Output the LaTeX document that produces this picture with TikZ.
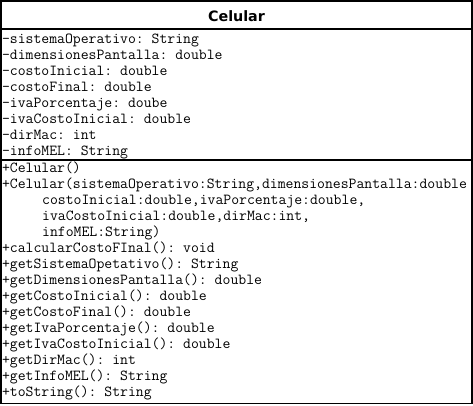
\documentclass[tikz,border=0pt]{standalone}
\usepackage{fontspec}
\newfontfamily\titlefont{DejaVu Sans}
\frenchspacing
\tikzset{
  umlline/.style={anchor=base west, inner sep=0pt, outer sep=0pt, font=\ttfamily\frenchspacing\fontsize{15.3}{16}\selectfont},
  umltitle/.style={anchor=base, inner sep=0pt, font=\titlefont\bfseries\fontsize{14.3}{17}\selectfont},
  umlbox/.style={draw=black, line width=1.6pt}
}
\begin{document}
\begin{tikzpicture}[x=1pt,y=-1pt]
\useasboundingbox (0,0) rectangle (473,405);
\fill[white] (0,0) rectangle (473,405);
\node[umltitle] (title) at (236.5,21) {Celular};
\begin{scope}
\clip (2,2) rectangle (471,403);
\foreach \t [count=\i from 0] in {
  -sistemaOperativo: String,
  -dimensionesPantalla: double,
  -costoInicial: double,
  -costoFinal: double,
  -ivaPorcentaje: doube,
  -ivaCostoInicial: double,
  -dirMac: int,
  -infoMEL: String}
  \node[umlline] (a\i) at (2,43+16*\i) {\t};
\node[umlline] (m0) at (2,172) {+Celular()};
\node[umlline] (m1) at (2,188.07) {+Celular(sistemaOperativo:String{,}dimensionesPantalla:double};
\node[umlline] (m2) at (42.2,204.14) {costoInicial:double{,}ivaPorcentaje:double{,}};
\node[umlline] (m3) at (42.2,220.21) {ivaCostoInicial:double{,}dirMac:int{,}};
\node[umlline] (m4) at (42.2,236.28) {infoMEL:String)};
\foreach \t [count=\i from 5] in {
  +calcularCostoFInal(): void,
  +getSistemaOpetativo(): String,
  +getDimensionesPantalla(): double,
  +getCostoInicial(): double,
  +getCostoFinal(): double,
  +getIvaPorcentaje(): double,
  +getIvaCostoInicial(): double,
  +getDirMac(): int,
  +getInfoMEL(): String,
  +toString(): String}
  \node[umlline] (m\i) at (2,172+16.07*\i) {\t};
\end{scope}
\draw[umlbox] (1,1) rectangle (472,403.5);
\draw[umlbox] (1,29) -- (472,29);
\draw[umlbox] (1,160) -- (472,160);
\end{tikzpicture}
\end{document}
